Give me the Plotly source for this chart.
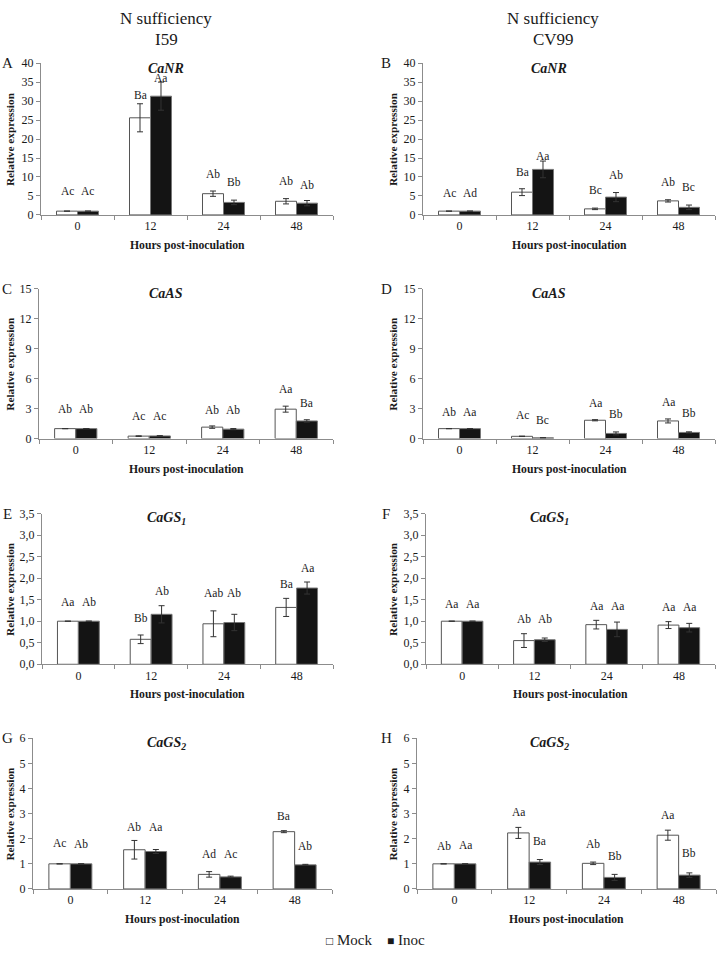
import plotly.graph_objects as go

W, H = 719, 961

hours = ["0", "12", "24", "48"]
tick_labels = ["0", "12", "24", "48"]

# Panel A - CaNR, I59
A_mock = [1.0, 25.6, 5.6, 3.6]
A_mock_err = [0.0, 3.7, 0.7, 0.7]
A_inoc = [1.0, 31.3, 3.3, 3.1]
A_inoc_err = [0.0, 3.7, 0.6, 0.7]
A_mock_letters = ["Ac", "Ba", "Ab", "Ab"]
A_inoc_letters = ["Ac", "Aa", "Bb", "Ab"]
A_mock_letter_y = [6.3, 31.7, 10.8, 8.9]
A_inoc_letter_y = [6.3, 36.1, 8.7, 8.0]

# Panel B - CaNR, CV99
B_mock = [1.0, 6.0, 1.6, 3.7]
B_mock_err = [0.0, 0.9, 0.2, 0.3]
B_inoc = [1.0, 12.0, 4.7, 2.0]
B_inoc_err = [0.0, 2.2, 1.2, 0.6]
B_mock_letters = ["Ac", "Ba", "Bc", "Ab"]
B_inoc_letters = ["Ad", "Aa", "Ab", "Bc"]
B_mock_letter_y = [5.8, 11.2, 6.5, 8.6]
B_inoc_letter_y = [5.8, 15.6, 10.4, 7.4]

# Panel C - CaAS, I59
C_mock = [1.0, 0.25, 1.15, 2.95]
C_mock_err = [0.0, 0.03, 0.12, 0.3]
C_inoc = [1.0, 0.27, 0.95, 1.77]
C_inoc_err = [0.0, 0.03, 0.06, 0.12]
C_mock_letters = ["Ab", "Ac", "Ab", "Aa"]
C_inoc_letters = ["Ab", "Ac", "Ab", "Ba"]
C_mock_letter_y = [2.95, 2.23, 2.89, 4.98]
C_inoc_letter_y = [2.95, 2.23, 2.89, 3.54]

# Panel D - CaAS, CV99
D_mock = [1.0, 0.23, 1.84, 1.77]
D_mock_err = [0.0, 0.02, 0.06, 0.2]
D_inoc = [1.0, 0.08, 0.52, 0.62]
D_inoc_err = [0.0, 0.02, 0.15, 0.06]
D_mock_letters = ["Ab", "Ac", "Aa", "Aa"]
D_inoc_letters = ["Aa", "Bc", "Bb", "Bb"]
D_mock_letter_y = [2.69, 2.36, 3.54, 3.64]
D_inoc_letter_y = [2.69, 1.87, 2.43, 2.52]

# Panel E - CaGS1, I59
E_mock = [1.0, 0.58, 0.94, 1.32]
E_mock_err = [0.0, 0.1, 0.30, 0.21]
E_inoc = [1.0, 1.16, 0.97, 1.77]
E_inoc_err = [0.0, 0.2, 0.19, 0.14]
E_mock_letters = ["Aa", "Bb", "Aab", "Ba"]
E_inoc_letters = ["Ab", "Ab", "Ab", "Aa"]
E_mock_letter_y = [1.44, 1.08, 1.65, 1.87]
E_inoc_letter_y = [1.44, 1.70, 1.65, 2.24]

# Panel F - CaGS1, CV99
F_mock = [1.0, 0.55, 0.92, 0.91]
F_mock_err = [0.0, 0.16, 0.1, 0.08]
F_inoc = [1.0, 0.57, 0.81, 0.85]
F_inoc_err = [0.0, 0.04, 0.17, 0.1]
F_mock_letters = ["Aa", "Ab", "Aa", "Aa"]
F_inoc_letters = ["Aa", "Ab", "Aa", "Aa"]
F_mock_letter_y = [1.40, 1.05, 1.36, 1.34]
F_inoc_letter_y = [1.40, 1.05, 1.36, 1.34]

# Panel G - CaGS2, I59
G_mock = [1.0, 1.56, 0.58, 2.28]
G_mock_err = [0.0, 0.37, 0.11, 0.04]
G_inoc = [1.0, 1.49, 0.48, 0.96]
G_inoc_err = [0.0, 0.08, 0.03, 0.02]
G_mock_letters = ["Ac", "Ab", "Ad", "Ba"]
G_inoc_letters = ["Ab", "Aa", "Ac", "Ab"]
G_mock_letter_y = [1.81, 2.45, 1.38, 2.92]
G_inoc_letter_y = [1.77, 2.45, 1.38, 1.69]

# Panel H - CaGS2, CV99
H_mock = [1.0, 2.23, 1.02, 2.14]
H_mock_err = [0.0, 0.22, 0.05, 0.2]
H_inoc = [1.0, 1.07, 0.46, 0.55]
H_inoc_err = [0.0, 0.1, 0.12, 0.09]
H_mock_letters = ["Ab", "Aa", "Ab", "Aa"]
H_inoc_letters = ["Aa", "Ba", "Bb", "Bb"]
H_mock_letter_y = [1.72, 3.08, 1.80, 2.94]
H_inoc_letter_y = [1.74, 1.90, 1.31, 1.42]

gene_titles = {
    "A": "<b><i>CaNR</i></b>", "B": "<b><i>CaNR</i></b>",
    "C": "<b><i>CaAS</i></b>", "D": "<b><i>CaAS</i></b>",
    "E": "<b><i>CaGS<sub>1</sub></i></b>", "F": "<b><i>CaGS<sub>1</sub></i></b>",
    "G": "<b><i>CaGS<sub>2</sub></i></b>", "H": "<b><i>CaGS<sub>2</sub></i></b>",
}

y_axes = {
    "A": (40, 5, None), "B": (40, 5, None),
    "C": (15, 3, None), "D": (15, 3, None),
    "E": (3.5, 0.5, ".1f"), "F": (3.5, 0.5, ".1f"),
    "G": (6, 1, None), "H": (6, 1, None),
}

# pixel layout: (x_left, x_right, y_top, y_bottom)
boxes = {
    "A": (41, 333, 57, 211), "B": (423, 715, 57, 211),
    "C": (39, 333, 286, 438), "D": (423, 715, 286, 438),
    "E": (42, 333, 514, 667), "F": (426, 715, 514, 667),
    "G": (33, 332, 742, 895), "H": (417, 716, 742, 895),
}

panels = {
    "A": (A_mock, A_mock_err, A_inoc, A_inoc_err, A_mock_letters, A_inoc_letters, A_mock_letter_y, A_inoc_letter_y),
    "B": (B_mock, B_mock_err, B_inoc, B_inoc_err, B_mock_letters, B_inoc_letters, B_mock_letter_y, B_inoc_letter_y),
    "C": (C_mock, C_mock_err, C_inoc, C_inoc_err, C_mock_letters, C_inoc_letters, C_mock_letter_y, C_inoc_letter_y),
    "D": (D_mock, D_mock_err, D_inoc, D_inoc_err, D_mock_letters, D_inoc_letters, D_mock_letter_y, D_inoc_letter_y),
    "E": (E_mock, E_mock_err, E_inoc, E_inoc_err, E_mock_letters, E_inoc_letters, E_mock_letter_y, E_inoc_letter_y),
    "F": (F_mock, F_mock_err, F_inoc, F_inoc_err, F_mock_letters, F_inoc_letters, F_mock_letter_y, F_inoc_letter_y),
    "G": (G_mock, G_mock_err, G_inoc, G_inoc_err, G_mock_letters, G_inoc_letters, G_mock_letter_y, G_inoc_letter_y),
    "H": (H_mock, H_mock_err, H_inoc, H_inoc_err, H_mock_letters, H_inoc_letters, H_mock_letter_y, H_inoc_letter_y),
}

FONT = "Times New Roman, Liberation Serif, serif"
AXIS_COLOR = "#8c8c8c"
TEXT_COLOR = "#1a1a1a"
BAR_LINE = "#555555"
BLACK = "#141414"

fig = go.Figure()
annotations = []
layout_axes = {}

GROUP = 1 - 0.425
OFF = GROUP / 4

for i, key in enumerate(["A", "B", "C", "D", "E", "F", "G", "H"]):
    n = i + 1
    xa = "x" if n == 1 else f"x{n}"
    ya = "y" if n == 1 else f"y{n}"
    mock, mock_err, inoc, inoc_err, ml, il, mly, ily = panels[key]
    fig.add_trace(go.Bar(
        x=hours, y=mock, name="Mock", xaxis=xa, yaxis=ya,
        marker=dict(color="white", line=dict(color=BAR_LINE, width=1)),
        error_y=dict(type="data", array=mock_err, visible=True, color="#333333", thickness=1, width=3),
        showlegend=False,
    ))
    fig.add_trace(go.Bar(
        x=hours, y=inoc, name="Inoc", xaxis=xa, yaxis=ya,
        marker=dict(color=BLACK, line=dict(color="#777777", width=1)),
        error_y=dict(type="data", array=inoc_err, visible=True, color="#333333", thickness=1, width=3),
        showlegend=False,
    ))
    x0, x1, yt, yb = boxes[key]
    ymax, dt, fmt = y_axes[key]
    xkey = "xaxis" if n == 1 else f"xaxis{n}"
    ykey = "yaxis" if n == 1 else f"yaxis{n}"
    layout_axes[xkey] = dict(
        domain=[x0 / W, x1 / W], anchor=ya, type="category",
        tickson="boundaries", ticks="outside", ticklen=4, tickcolor=AXIS_COLOR,
        showline=True, linecolor=AXIS_COLOR, linewidth=1, showgrid=False,
        tickfont=dict(family=FONT, size=12, color=TEXT_COLOR),
        tickvals=hours, ticktext=tick_labels, fixedrange=True,
    )
    yd = dict(
        domain=[1 - yb / H, 1 - yt / H], anchor=xa, range=[0, ymax],
        tick0=0, dtick=dt, ticks="outside", ticklen=4, tickcolor=AXIS_COLOR,
        showline=True, linecolor=AXIS_COLOR, linewidth=1, showgrid=False,
        zeroline=False, tickfont=dict(family=FONT, size=12, color=TEXT_COLOR),
    )
    if fmt:
        yd["tickformat"] = fmt
    layout_axes[ykey] = yd

    # significance letters
    for j in range(4):
        annotations.append(dict(x=j - OFF, y=mly[j], xref=xa, yref=ya, text=ml[j],
                                showarrow=False, font=dict(family=FONT, size=11.5, color=TEXT_COLOR)))
        annotations.append(dict(x=j + OFF, y=ily[j], xref=xa, yref=ya, text=il[j],
                                showarrow=False, font=dict(family=FONT, size=11.5, color=TEXT_COLOR)))

    left = key in "ACEG"
    # panel letter
    annotations.append(dict(x=(7 if left else 386) / W, y=1 - (yt) / H, xref="paper", yref="paper",
                            text=key, showarrow=False, xanchor="center", yanchor="middle",
                            font=dict(family=FONT, size=15, color=TEXT_COLOR)))
    # gene title
    annotations.append(dict(x=(166 if left else 549) / W, y=1 - (yt + 5) / H, xref="paper", yref="paper",
                            text=gene_titles[key], showarrow=False, xanchor="center", yanchor="middle",
                            font=dict(family=FONT, size=14, color=TEXT_COLOR)))
    # y title
    annotations.append(dict(x=(10 if left else 393) / W, y=1 - ((yt + yb) / 2) / H, xref="paper", yref="paper",
                            text="<b>Relative expression</b>", textangle=-90, showarrow=False,
                            xanchor="center", yanchor="middle",
                            font=dict(family=FONT, size=11.3, color=TEXT_COLOR)))
    # x title
    annotations.append(dict(x=((x0 + x1) / 2) / W, y=1 - (yb + 31) / H, xref="paper", yref="paper",
                            text="<b>Hours post-inoculation</b>", showarrow=False,
                            xanchor="center", yanchor="middle",
                            font=dict(family=FONT, size=11.7, color=TEXT_COLOR)))

# column headers
for cx, line1, line2 in [(166, "N sufficiency", "I59"), (553, "N sufficiency", "CV99")]:
    annotations.append(dict(x=cx / W, y=1 - 12 / H, xref="paper", yref="paper", text=line1,
                            showarrow=False, xanchor="center", yanchor="middle",
                            font=dict(family=FONT, size=17, color=TEXT_COLOR)))
    annotations.append(dict(x=cx / W, y=1 - 33 / H, xref="paper", yref="paper", text=line2,
                            showarrow=False, xanchor="center", yanchor="middle",
                            font=dict(family=FONT, size=17, color=TEXT_COLOR)))

# legend
annotations.append(dict(
    x=375 / W, y=1 - 947 / H, xref="paper", yref="paper",
    text=("<span style='font-size:12px'>□</span>&nbsp;Mock&nbsp;&nbsp;&nbsp;&nbsp;"
          "<span style='font-size:12px'>■</span>&nbsp;Inoc"),
    showarrow=False, xanchor="center", yanchor="middle",
    font=dict(family=FONT, size=15, color=TEXT_COLOR)))

fig.update_layout(
    width=W, height=H, margin=dict(l=0, r=0, t=0, b=0),
    paper_bgcolor="white", plot_bgcolor="white",
    barmode="group", bargap=0.425, bargroupgap=0,
    separators=",.",
    annotations=annotations,
    showlegend=False,
    font=dict(family=FONT, color=TEXT_COLOR),
    **layout_axes,
)

fig.write_html("out.html", config={"displayModeBar": False},
               post_script="document.body.style.margin='0px';")
